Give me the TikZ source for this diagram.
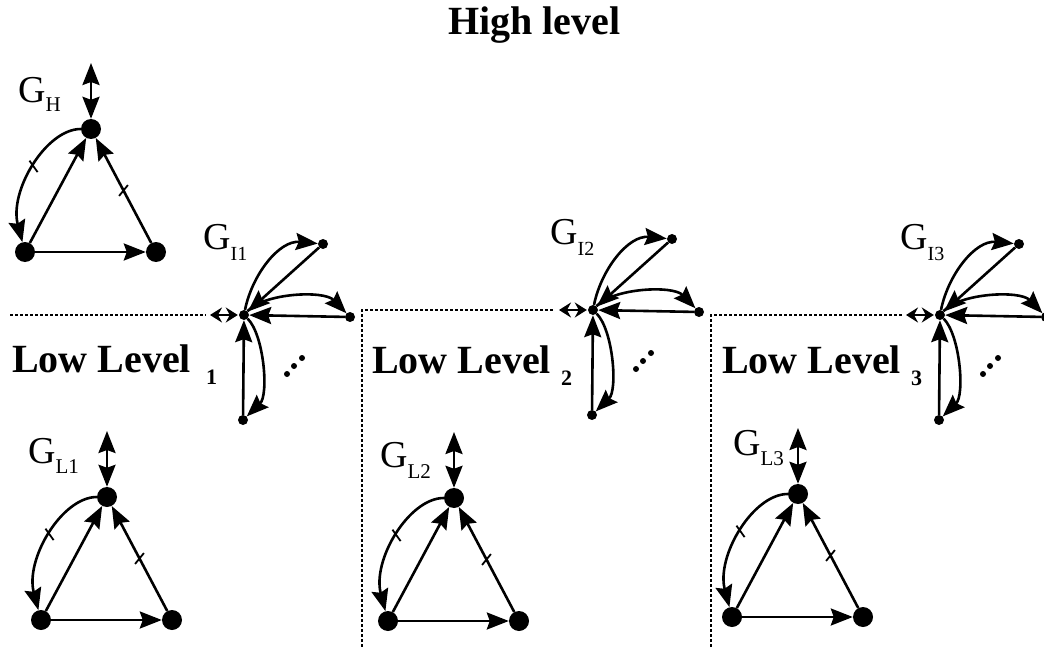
\documentclass[tikz,border=0pt]{standalone}
\usepackage{fontspec}
\setmainfont{Liberation Serif}
\usetikzlibrary{arrows.meta}
\tikzset{
  big/.style={circle,fill=black,minimum size=20pt,inner sep=0pt},
  small/.style={circle,fill=black,minimum size=10pt,inner sep=0pt},
  lnw/.style={line width=2.6pt},
  arr/.style={lnw,arrows={-Stealth[length=22pt,width=17pt,inset=3pt]}},
  dbl/.style={lnw,arrows={Stealth[length=22pt,width=17pt,inset=3pt]-Stealth[length=22pt,width=17pt,inset=3pt]}},
  sdbl/.style={lnw,arrows={Stealth[length=12pt,width=15pt,inset=4pt]-Stealth[length=12pt,width=15pt,inset=4pt]}},
  tickmk/.style={sloped,inner sep=0pt,outer sep=0pt},
  dotline/.style={line width=1.7pt,dash pattern=on 3pt off 2pt},
  glabel/.style={anchor=base west,inner sep=0pt,font=\fontsize{38}{38}\selectfont},
  lowlabel/.style={anchor=base west,inner sep=0pt,font=\fontsize{40}{40}\selectfont\bfseries},
  lowsub/.style={anchor=base west,inner sep=0pt,font=\fontsize{22}{22}\selectfont\bfseries},
  ell/.style={circle,fill=black,minimum size=6pt,inner sep=0pt}
}
\newcommand\tk{\rule{1.8pt}{14pt}}
\newcommand\mytri[3]{%
  \begin{scope}[shift={(#2,#3)}]
    \node[big] (#1t) at (0,0) {};
    \node[big] (#1l) at (-66,123) {};
    \node[big] (#1r) at (65,123) {};
    \coordinate (#1u) at (0,-66);
    \draw[dbl] (#1t) -- (#1u);
    \draw[arr] (#1l) -- (#1t);
    \draw[arr] (#1r) -- node[tickmk,rotate=23] {\tk} (#1t);
    \draw[arr] (#1l) -- (#1r);
    \draw[arr] (#1t) .. controls (-45,0) and (-82,62) .. node[tickmk,rotate=-26] {\tk} (#1l);
  \end{scope}}
\newcommand\mystar[3]{%
  \begin{scope}[shift={(#2,#3)}]
    \node[small] (#1c) at (0,0) {};
    \node[small] (#1a) at (79,-71) {};
    \node[small] (#1b) at (106,2) {};
    \node[small] (#1d) at (-1,105) {};
    \coordinate (#1p) at (-34,0);
    \draw[sdbl,shorten >=1pt] (#1p) -- (#1c);
    \draw[arr] (#1c) .. controls (8,-40) and (35,-75) .. (#1a);
    \draw[arr] (#1a) -- (#1c);
    \draw[arr] (#1c) .. controls (20,-22) and (80,-25) .. (#1b);
    \draw[arr] (#1b) -- (#1c);
    \draw[arr] (#1d) -- (#1c);
    \draw[arr] (#1c) .. controls (20,20) and (25,80) .. (#1d);
    \node[ell] (#1e1) at (43,59) {};
    \node[ell] (#1e2) at (50,51) {};
    \node[ell] (#1e3) at (58,43) {};
  \end{scope}}
\begin{document}
\begin{tikzpicture}[x=1pt,y=-1pt]
\useasboundingbox (0,0) rectangle (1044,647);
% title
\node[anchor=base west,inner sep=0pt,font=\fontsize{40}{40}\selectfont\bfseries] (title) at (448,35) {High level};
% dotted separators
\coordinate (h1a) at (10,315); \coordinate (h1b) at (206,315);
\coordinate (h2a) at (362,310); \coordinate (h2b) at (553,310); \coordinate (v2b) at (362,647);
\coordinate (h3a) at (711,315); \coordinate (h3b) at (902,315); \coordinate (v3b) at (711,647);
\draw[dotline] (h1a) -- (h1b);
\draw[dotline] (v2b) -- (h2a) -- (h2b);
\draw[dotline] (v3b) -- (h3a) -- (h3b);
% graphs
\mytri{H}{91}{129}
\mytri{La}{107}{497}
\mytri{Lb}{454}{498}
\mytri{Lc}{798}{494}
\mystar{Ia}{244}{315}
\mystar{Ib}{593}{310}
\mystar{Ic}{940}{315}
% labels
\node[glabel] (gH) at (18,103) {G\raisebox{-9pt}{\fontsize{21}{21}\selectfont H}};
\node[glabel] (gI1) at (203,250) {G\raisebox{-11pt}{\fontsize{20}{20}\selectfont I1}};
\node[glabel] (gI2) at (550,244) {G\raisebox{-11pt}{\fontsize{20}{20}\selectfont I2}};
\node[glabel] (gI3) at (900,250) {G\raisebox{-11pt}{\fontsize{20}{20}\selectfont I3}};
\node[glabel] (gL1) at (28,463) {G\raisebox{-10pt}{\fontsize{21}{21}\selectfont L1}};
\node[glabel] (gL2) at (380,467) {G\raisebox{-11pt}{\fontsize{21}{21}\selectfont L2}};
\node[glabel] (gL3) at (733,455) {G\raisebox{-10pt}{\fontsize{21}{21}\selectfont L3}};
\node[lowlabel] (ll1) at (12,372) {Low Level};
\node[lowsub] (ll1s) at (206,384) {1};
\node[lowlabel] (ll2) at (372,373) {Low Level};
\node[lowsub] (ll2s) at (561,385) {2};
\node[lowlabel] (ll3) at (722,373) {Low Level};
\node[lowsub] (ll3s) at (911,385) {3};
\end{tikzpicture}
\end{document}
